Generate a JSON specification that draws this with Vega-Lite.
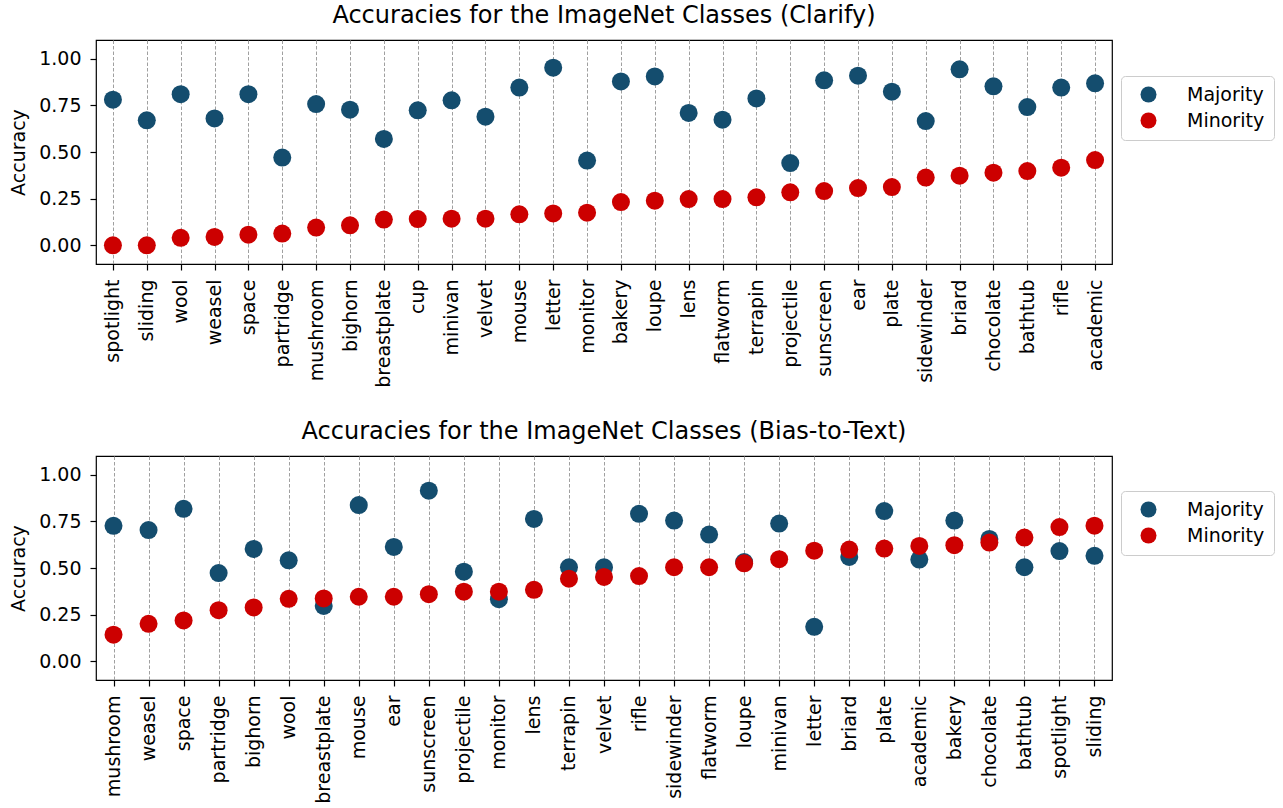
{
  "$schema": "https://vega.github.io/schema/vega-lite/v6.json",
  "padding": {"left": 9, "top": 3, "right": 0, "bottom": 0},
  "background": "white",
  "spacing": 31,
  "config": {
    "font": "DejaVu Sans",
    "view": {"stroke": "black", "strokeWidth": 1.2},
    "axis": {"labelFont": "DejaVu Sans", "titleFont": "DejaVu Sans", "labelFontSize": 19, "titleFontSize": 19, "titleFontWeight": "normal", "labelColor": "black", "titleColor": "black", "tickColor": "black", "tickSize": 6, "tickWidth": 1.2, "labelPadding": 9, "domain": false},
    "title": {"font": "DejaVu Sans", "fontSize": 24, "fontWeight": "normal", "color": "black", "anchor": "middle", "frame": "group", "baseline": "alphabetic", "offset": 12},
    "legend": {"symbolType": "circle", "symbolSize": 256, "symbolStrokeWidth": 0, "labelFont": "DejaVu Sans", "labelFontSize": 19, "labelColor": "black", "strokeColor": "#cccccc", "fillColor": "white", "cornerRadius": 4, "padding": 9, "rowPadding": 6, "symbolOffset": 9, "labelOffset": 29}
  },
  "resolve": {"scale": {"x": "independent"}, "legend": {"color": "independent"}},
  "vconcat": [
    {
      "title": "Accuracies for the ImageNet Classes (Clarify)",
      "width": 1016,
      "height": 224,
      "data": {"values": [
        {"cls": "spotlight", "group": "Majority", "acc": 0.78},
        {"cls": "sliding", "group": "Majority", "acc": 0.67},
        {"cls": "wool", "group": "Majority", "acc": 0.81},
        {"cls": "weasel", "group": "Majority", "acc": 0.68},
        {"cls": "space", "group": "Majority", "acc": 0.81},
        {"cls": "partridge", "group": "Majority", "acc": 0.47},
        {"cls": "mushroom", "group": "Majority", "acc": 0.757},
        {"cls": "bighorn", "group": "Majority", "acc": 0.727},
        {"cls": "breastplate", "group": "Majority", "acc": 0.57},
        {"cls": "cup", "group": "Majority", "acc": 0.723},
        {"cls": "minivan", "group": "Majority", "acc": 0.777},
        {"cls": "velvet", "group": "Majority", "acc": 0.689},
        {"cls": "mouse", "group": "Majority", "acc": 0.845},
        {"cls": "letter", "group": "Majority", "acc": 0.952},
        {"cls": "monitor", "group": "Majority", "acc": 0.454},
        {"cls": "bakery", "group": "Majority", "acc": 0.878},
        {"cls": "loupe", "group": "Majority", "acc": 0.905},
        {"cls": "lens", "group": "Majority", "acc": 0.709},
        {"cls": "flatworm", "group": "Majority", "acc": 0.673},
        {"cls": "terrapin", "group": "Majority", "acc": 0.787},
        {"cls": "projectile", "group": "Majority", "acc": 0.441},
        {"cls": "sunscreen", "group": "Majority", "acc": 0.884},
        {"cls": "ear", "group": "Majority", "acc": 0.909},
        {"cls": "plate", "group": "Majority", "acc": 0.823},
        {"cls": "sidewinder", "group": "Majority", "acc": 0.666},
        {"cls": "briard", "group": "Majority", "acc": 0.943},
        {"cls": "chocolate", "group": "Majority", "acc": 0.852},
        {"cls": "bathtub", "group": "Majority", "acc": 0.741},
        {"cls": "rifle", "group": "Majority", "acc": 0.845},
        {"cls": "academic", "group": "Majority", "acc": 0.868},
        {"cls": "spotlight", "group": "Minority", "acc": 0.0},
        {"cls": "sliding", "group": "Minority", "acc": 0.0},
        {"cls": "wool", "group": "Minority", "acc": 0.04},
        {"cls": "weasel", "group": "Minority", "acc": 0.045},
        {"cls": "space", "group": "Minority", "acc": 0.057},
        {"cls": "partridge", "group": "Minority", "acc": 0.063},
        {"cls": "mushroom", "group": "Minority", "acc": 0.095},
        {"cls": "bighorn", "group": "Minority", "acc": 0.107},
        {"cls": "breastplate", "group": "Minority", "acc": 0.138},
        {"cls": "cup", "group": "Minority", "acc": 0.141},
        {"cls": "minivan", "group": "Minority", "acc": 0.143},
        {"cls": "velvet", "group": "Minority", "acc": 0.143},
        {"cls": "mouse", "group": "Minority", "acc": 0.166},
        {"cls": "letter", "group": "Minority", "acc": 0.171},
        {"cls": "monitor", "group": "Minority", "acc": 0.175},
        {"cls": "bakery", "group": "Minority", "acc": 0.232},
        {"cls": "loupe", "group": "Minority", "acc": 0.239},
        {"cls": "lens", "group": "Minority", "acc": 0.248},
        {"cls": "flatworm", "group": "Minority", "acc": 0.248},
        {"cls": "terrapin", "group": "Minority", "acc": 0.257},
        {"cls": "projectile", "group": "Minority", "acc": 0.284},
        {"cls": "sunscreen", "group": "Minority", "acc": 0.291},
        {"cls": "ear", "group": "Minority", "acc": 0.307},
        {"cls": "plate", "group": "Minority", "acc": 0.312},
        {"cls": "sidewinder", "group": "Minority", "acc": 0.363},
        {"cls": "briard", "group": "Minority", "acc": 0.373},
        {"cls": "chocolate", "group": "Minority", "acc": 0.389},
        {"cls": "bathtub", "group": "Minority", "acc": 0.398},
        {"cls": "rifle", "group": "Minority", "acc": 0.416},
        {"cls": "academic", "group": "Minority", "acc": 0.457}
      ]},
      "mark": {"type": "point", "filled": true, "size": 324, "opacity": 1},
      "encoding": {
        "x": {"field": "cls", "type": "nominal", "sort": null, "scale": {"type": "point", "padding": 0.5}, "axis": {"title": null, "labelAngle": -90, "grid": true, "gridDash": [3.5, 2], "gridColor": "#a0a0a0", "gridWidth": 1}},
        "y": {"field": "acc", "type": "quantitative", "scale": {"domain": [-0.1, 1.1], "nice": false, "zero": false}, "axis": {"title": "Accuracy", "values": [0, 0.25, 0.5, 0.75, 1], "format": ".2f", "grid": false, "titlePadding": 10}},
        "color": {"field": "group", "type": "nominal", "scale": {"domain": ["Majority", "Minority"], "range": ["#144d6e", "#cc0000"]}, "legend": {"title": null, "orient": "none", "legendX": 1025, "legendY": 36}}
      }
    },
    {
      "title": "Accuracies for the ImageNet Classes (Bias-to-Text)",
      "width": 1016,
      "height": 224,
      "data": {"values": [
        {"cls": "mushroom", "group": "Majority", "acc": 0.726},
        {"cls": "weasel", "group": "Majority", "acc": 0.703},
        {"cls": "space", "group": "Majority", "acc": 0.817},
        {"cls": "partridge", "group": "Majority", "acc": 0.473},
        {"cls": "bighorn", "group": "Majority", "acc": 0.602},
        {"cls": "wool", "group": "Majority", "acc": 0.541},
        {"cls": "breastplate", "group": "Majority", "acc": 0.297},
        {"cls": "mouse", "group": "Majority", "acc": 0.837},
        {"cls": "ear", "group": "Majority", "acc": 0.613},
        {"cls": "sunscreen", "group": "Majority", "acc": 0.914},
        {"cls": "projectile", "group": "Majority", "acc": 0.48},
        {"cls": "monitor", "group": "Majority", "acc": 0.333},
        {"cls": "lens", "group": "Majority", "acc": 0.763},
        {"cls": "terrapin", "group": "Majority", "acc": 0.504},
        {"cls": "velvet", "group": "Majority", "acc": 0.504},
        {"cls": "rifle", "group": "Majority", "acc": 0.79},
        {"cls": "sidewinder", "group": "Majority", "acc": 0.754},
        {"cls": "flatworm", "group": "Majority", "acc": 0.679},
        {"cls": "loupe", "group": "Majority", "acc": 0.532},
        {"cls": "minivan", "group": "Majority", "acc": 0.738},
        {"cls": "letter", "group": "Majority", "acc": 0.185},
        {"cls": "briard", "group": "Majority", "acc": 0.559},
        {"cls": "plate", "group": "Majority", "acc": 0.805},
        {"cls": "academic", "group": "Majority", "acc": 0.545},
        {"cls": "bakery", "group": "Majority", "acc": 0.754},
        {"cls": "chocolate", "group": "Majority", "acc": 0.656},
        {"cls": "bathtub", "group": "Majority", "acc": 0.504},
        {"cls": "spotlight", "group": "Majority", "acc": 0.591},
        {"cls": "sliding", "group": "Majority", "acc": 0.565},
        {"cls": "mushroom", "group": "Minority", "acc": 0.143},
        {"cls": "weasel", "group": "Minority", "acc": 0.201},
        {"cls": "space", "group": "Minority", "acc": 0.219},
        {"cls": "partridge", "group": "Minority", "acc": 0.274},
        {"cls": "bighorn", "group": "Minority", "acc": 0.289},
        {"cls": "wool", "group": "Minority", "acc": 0.335},
        {"cls": "breastplate", "group": "Minority", "acc": 0.337},
        {"cls": "mouse", "group": "Minority", "acc": 0.346},
        {"cls": "ear", "group": "Minority", "acc": 0.346},
        {"cls": "sunscreen", "group": "Minority", "acc": 0.36},
        {"cls": "projectile", "group": "Minority", "acc": 0.373},
        {"cls": "monitor", "group": "Minority", "acc": 0.373},
        {"cls": "lens", "group": "Minority", "acc": 0.383},
        {"cls": "terrapin", "group": "Minority", "acc": 0.443},
        {"cls": "velvet", "group": "Minority", "acc": 0.452},
        {"cls": "rifle", "group": "Minority", "acc": 0.457},
        {"cls": "sidewinder", "group": "Minority", "acc": 0.504},
        {"cls": "flatworm", "group": "Minority", "acc": 0.504},
        {"cls": "loupe", "group": "Minority", "acc": 0.525},
        {"cls": "minivan", "group": "Minority", "acc": 0.547},
        {"cls": "letter", "group": "Minority", "acc": 0.593},
        {"cls": "briard", "group": "Minority", "acc": 0.599},
        {"cls": "plate", "group": "Minority", "acc": 0.604},
        {"cls": "academic", "group": "Minority", "acc": 0.618},
        {"cls": "bakery", "group": "Minority", "acc": 0.622},
        {"cls": "chocolate", "group": "Minority", "acc": 0.636},
        {"cls": "bathtub", "group": "Minority", "acc": 0.663},
        {"cls": "spotlight", "group": "Minority", "acc": 0.719},
        {"cls": "sliding", "group": "Minority", "acc": 0.727}
      ]},
      "mark": {"type": "point", "filled": true, "size": 324, "opacity": 1},
      "encoding": {
        "x": {"field": "cls", "type": "nominal", "sort": null, "scale": {"type": "point", "padding": 0.5}, "axis": {"title": null, "labelAngle": -90, "grid": true, "gridDash": [3.5, 2], "gridColor": "#a0a0a0", "gridWidth": 1}},
        "y": {"field": "acc", "type": "quantitative", "scale": {"domain": [-0.1, 1.1], "nice": false, "zero": false}, "axis": {"title": "Accuracy", "values": [0, 0.25, 0.5, 0.75, 1], "format": ".2f", "grid": false, "titlePadding": 10}},
        "color": {"field": "group", "type": "nominal", "scale": {"domain": ["Majority", "Minority"], "range": ["#144d6e", "#cc0000"]}, "legend": {"title": null, "orient": "none", "legendX": 1025, "legendY": 35}}
      }
    }
  ]
}
